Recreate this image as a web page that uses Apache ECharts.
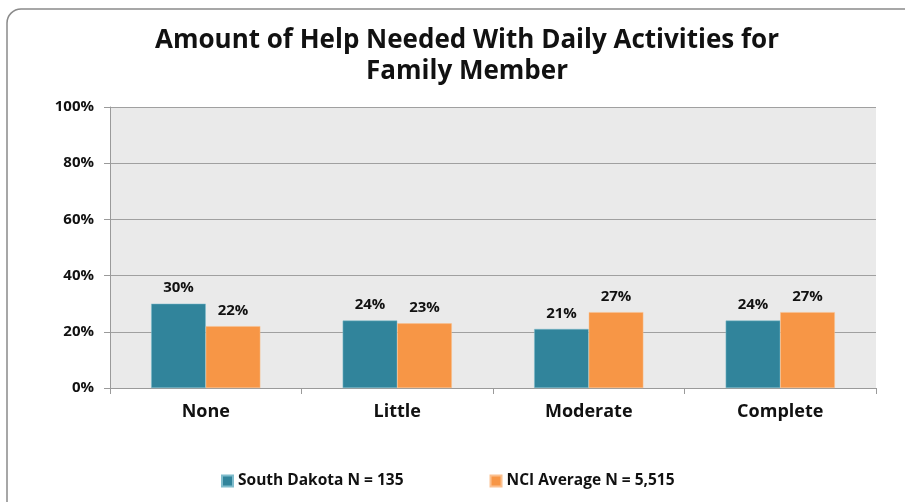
<!DOCTYPE html>
<html>
<head>
<meta charset="utf-8">
<script src="https://cdn.jsdelivr.net/npm/echarts@6/dist/echarts.min.js"></script>
<style>
  html, body { margin: 0; padding: 0; background: #fff; }
  #chart { width: 905px; height: 502px; }
</style>
</head>
<body>
<div id="chart"></div>
<script>
  var categories = ['None', 'Little', 'Moderate', 'Complete'];
  var southDakota = [30, 24, 21, 24];
  var nciAverage = [22, 23, 27, 27];
  var seriesNames = ['South Dakota N = 135', 'NCI Average N = 5,515'];

  var font = '"Open Sans", Lato, sans-serif';
  var myChart = echarts.init(document.getElementById('chart'));

  var labelStyle = {
    show: true,
    position: 'top',
    distance: 8,
    formatter: '{c}%',
    fontFamily: font,
    fontWeight: 'bold',
    fontSize: 15,
    color: '#111'
  };

  myChart.setOption({
    backgroundColor: '#fff',
    animation: false,
    graphic: [{
      type: 'rect',
      shape: { x: 7, y: 9, width: 940, height: 540, r: 14 },
      style: { fill: 'none', stroke: '#8a8a8a', lineWidth: 1.5 },
      silent: true,
      z: -10
    }],
    title: {
      text: 'Amount of Help Needed With Daily Activities for\nFamily Member',
      left: 462,
      textAlign: 'center',
      top: 20,
      textStyle: {
        fontFamily: font,
        fontWeight: 'bold',
        fontSize: 26,
        lineHeight: 31,
        color: '#111'
      }
    },
    legend: {
      bottom: 8,
      left: 216,
      itemGap: 86,
      itemWidth: 11,
      itemHeight: 11,
      icon: 'rect',
      textStyle: {
        fontFamily: font,
        fontWeight: 'bold',
        fontSize: 15.5,
        color: '#111'
      },
      data: seriesNames
    },
    grid: {
      left: 110,
      right: 29,
      top: 107,
      bottom: 114,
      show: true,
      backgroundColor: '#eaeaea',
      borderWidth: 0
    },
    xAxis: {
      type: 'category',
      data: categories,
      axisLine: { show: true, lineStyle: { color: '#9a9a9a', width: 1 } },
      axisTick: { show: true, alignWithLabel: false, length: 6, lineStyle: { color: '#9a9a9a' } },
      axisLabel: {
        margin: 15,
        fontFamily: font,
        fontWeight: 'bold',
        fontSize: 18,
        color: '#111'
      }
    },
    yAxis: {
      type: 'value',
      min: 0,
      max: 100,
      interval: 20,
      axisLine: { show: true, lineStyle: { color: '#9a9a9a', width: 1 } },
      axisTick: { show: true, length: 6, lineStyle: { color: '#9a9a9a' } },
      splitLine: { show: true, lineStyle: { color: '#a0a0a0', width: 1 } },
      axisLabel: {
        formatter: '{value}%',
        margin: 16,
        fontFamily: font,
        fontWeight: 'bold',
        fontSize: 15,
        color: '#111'
      }
    },
    series: [
      {
        name: seriesNames[0],
        type: 'bar',
        data: southDakota,
        barGap: '0%',
        barCategoryGap: '43%',
        itemStyle: { color: '#31849b', borderColor: '#7fbccc', borderWidth: 0.5 },
        label: labelStyle
      },
      {
        name: seriesNames[1],
        type: 'bar',
        data: nciAverage,
        itemStyle: { color: '#f79646', borderColor: '#fbc08f', borderWidth: 0.5 },
        label: labelStyle
      }
    ]
  });
</script>
</body>
</html>
